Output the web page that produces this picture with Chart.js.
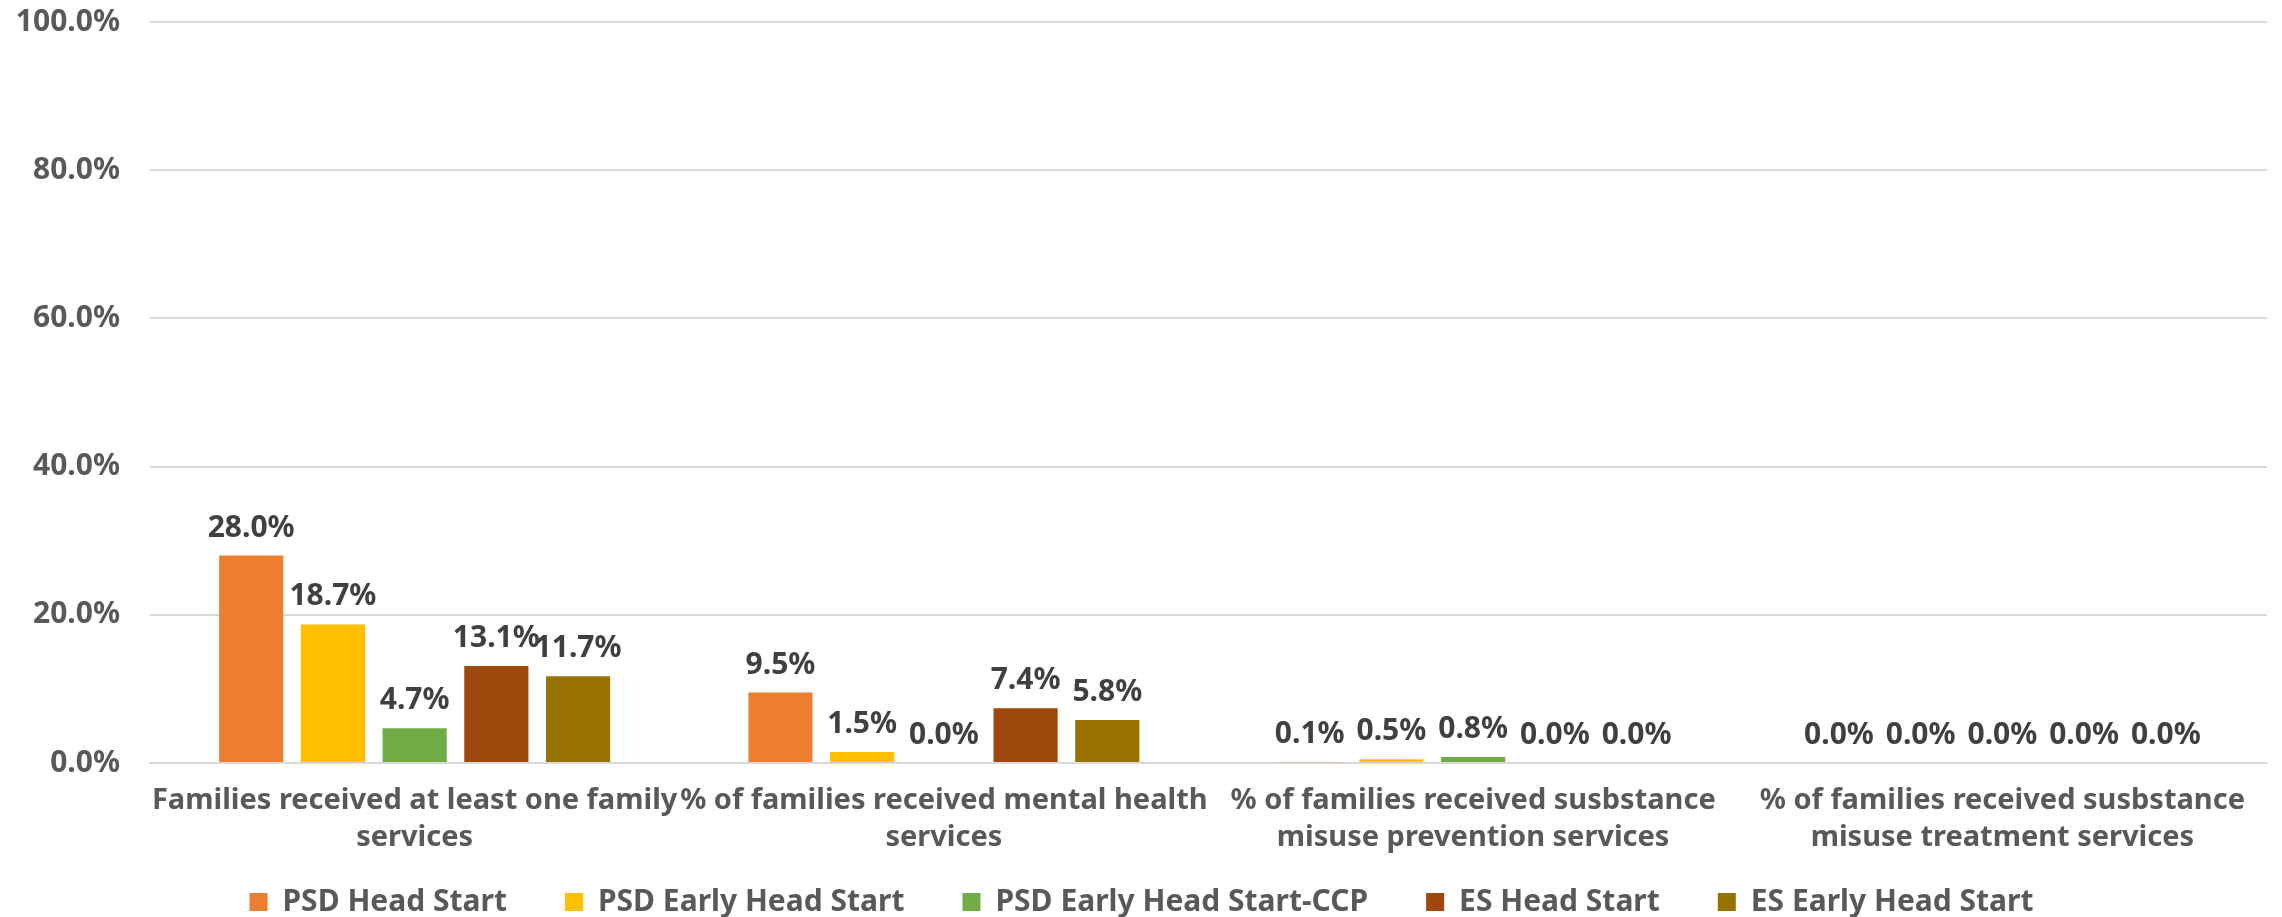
<!DOCTYPE html>
<html>
<head>
<meta charset="utf-8">
<script src="https://cdn.jsdelivr.net/npm/chart.js@4.4.1/dist/chart.umd.min.js"></script>
<style>
  html, body { margin: 0; padding: 0; background: #ffffff; }
  #wrap { width: 2282px; height: 917px; }
</style>
</head>
<body>
<div id="wrap"><canvas id="c" width="2282" height="917"></canvas></div>
<script>
const categories = [
  ["Families received at least one family", "services"],
  ["% of families received mental health", "services"],
  ["% of families received susbstance", "misuse prevention services"],
  ["% of families received susbstance", "misuse treatment services"]
];
const seriesNames = ["PSD Head Start", "PSD Early Head Start", "PSD Early Head Start-CCP", "ES Head Start", "ES Early Head Start"];
const psdHeadStart = [28.0, 9.5, 0.1, 0.0];
const psdEarlyHeadStart = [18.7, 1.5, 0.5, 0.0];
const psdEarlyHeadStartCCP = [4.7, 0.0, 0.8, 0.0];
const esHeadStart = [13.1, 7.4, 0.0, 0.0];
const esEarlyHeadStart = [11.7, 5.8, 0.0, 0.0];
const yTicks = [0, 20, 40, 60, 80, 100];
const seriesColors = ["#ED7D31", "#FFC000", "#70AD47", "#9E480E", "#997300"];

const FONT = "'Noto Sans', 'DejaVu Sans', sans-serif";
const seriesValues = [psdHeadStart, psdEarlyHeadStart, psdEarlyHeadStartCCP, esHeadStart, esEarlyHeadStart];
const LEGEND_GAP = "\u00a0\u00a0\u00a0\u00a0\u00a0";

const dataLabels = {
  id: 'dataLabels',
  afterDatasetsDraw(chart) {
    const ctx = chart.ctx;
    ctx.save();
    ctx.font = "bold 30px " + FONT;
    ctx.fillStyle = "#404040";
    ctx.textAlign = "center";
    ctx.textBaseline = "alphabetic";
    chart.data.datasets.forEach((ds, di) => {
      const meta = chart.getDatasetMeta(di);
      meta.data.forEach((el, i) => {
        const v = ds.data[i];
        ctx.fillText(v.toFixed(1) + "%", el.x, el.y - 19);
      });
    });
    ctx.restore();
  }
};

const legendFit = {
  id: 'legendFit',
  beforeLayout(chart) {
    const lg = chart.legend;
    if (lg && !lg._patched) {
      const orig = lg.fit;
      lg.fit = function () { orig.call(this); this.height -= 10; };
      lg._patched = true;
    }
  },
  afterLayout(chart) {
    const lg = chart.legend;
    if (lg) { lg.left += 8; lg.right += 8; }
  }
};

new Chart(document.getElementById('c'), {
  type: 'bar',
  data: {
    labels: categories,
    datasets: seriesNames.map((name, i) => ({
      label: name,
      data: seriesValues[i],
      backgroundColor: seriesColors[i],
      borderWidth: 0,
      categoryPercentage: 0.772,
      barPercentage: 0.785
    }))
  },
  options: {
    responsive: false,
    animation: false,
    devicePixelRatio: 1,
    layout: { padding: { left: 0, right: 15, top: 22, bottom: 0 } },
    plugins: {
      tooltip: { enabled: false },
      legend: {
        position: 'bottom',
        labels: {
          boxWidth: 18,
          boxHeight: 18,
          padding: 19,
          color: "#595959",
          font: { family: FONT, size: 30, weight: 'bold' },
          generateLabels(chart) {
            const items = Chart.defaults.plugins.legend.labels.generateLabels(chart);
            items.forEach((it, i) => {
              if (i < items.length - 1) it.text = it.text + LEGEND_GAP;
            });
            return items;
          }
        }
      }
    },
    scales: {
      x: {
        grid: { display: false, drawTicks: false },
        border: { display: true, color: "#d9d9d9", width: 2 },
        ticks: {
          color: "#595959",
          padding: 19,
          maxRotation: 0,
          autoSkip: false,
          font: { family: FONT, size: 29, weight: 'bold', lineHeight: '37px' }
        },
        afterFit(scale) { scale.height = 105; }
      },
      y: {
        min: 0,
        max: 100,
        afterBuildTicks(scale) { scale.ticks = yTicks.map(v => ({ value: v })); },
        grid: { color: "#d9d9d9", lineWidth: 2, drawTicks: true, tickLength: 30, tickColor: 'rgba(0,0,0,0)' },
        border: { display: false },
        ticks: {
          color: "#595959",
          padding: 0,
          font: { family: FONT, size: 30, weight: 'bold' },
          callback: (v) => Number(v).toFixed(1) + "%"
        },
        afterFit(scale) { scale.width = 150; }
      }
    }
  },
  plugins: [dataLabels, legendFit]
});
</script>
</body>
</html>
